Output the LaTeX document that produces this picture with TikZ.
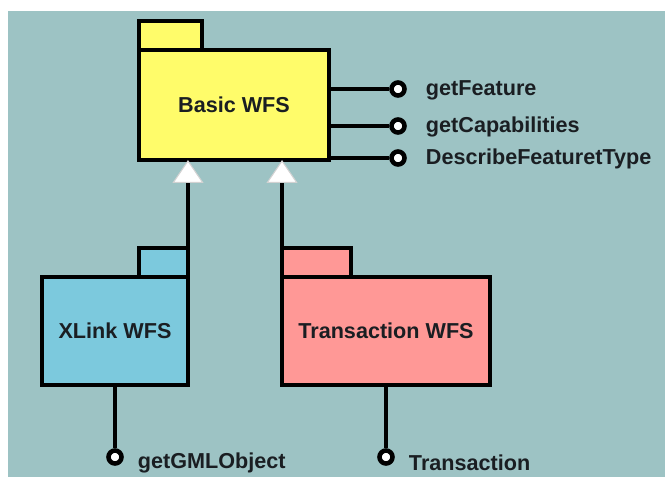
\documentclass[tikz,border=0pt]{standalone}
\usepackage{fontspec}
\setmainfont{Liberation Sans}
\usetikzlibrary{arrows.meta, positioning}
\definecolor{bgteal}{HTML}{9DC3C4}
\definecolor{wfsyellow}{HTML}{FFFC6A}
\definecolor{wfsblue}{HTML}{7CC9DD}
\definecolor{wfspink}{HTML}{FF9896}
\definecolor{inkdark}{HTML}{1A1E22}

\begin{document}
\begin{tikzpicture}[
    x=0.02cm, y=-0.02cm,
    every node/.style={font=\fontsize{12.3}{14}\selectfont\bfseries, text=inkdark},
    pkg/.style={rectangle, draw=black, line width=2.6pt, inner sep=0pt,
                outer sep=0pt},
    tab/.style={pkg, minimum height=0.58cm},
    port/.style={circle, draw=black, fill=white, line width=2.6pt,
                 minimum size=0.26cm, inner sep=0pt},
    oplabel/.style={anchor=west},
    wire/.style={black, line width=2.6pt},
    inherit/.style={wire, -{Triangle[width=0.62cm, length=0.46cm,
                    fill=white, color=gray!35, line width=0.6pt]}},
]
\useasboundingbox (0,0) rectangle (665,477);

% Background
\fill[white] (0,0) rectangle (665,477);
\fill[bgteal] (8,11) rectangle (665,477);

% Packages
\node[pkg, fill=wfsyellow, minimum width=3.8cm, minimum height=2.2cm]
  (basic) at (234,105) {Basic WFS};
\node[tab, fill=wfsyellow, minimum width=1.26cm,
      above right=0pt of basic.north west] (btab) {};

\node[pkg, fill=wfsblue, minimum width=2.92cm, minimum height=2.16cm]
  (xlink) at (115,331) {XLink WFS};
\node[tab, fill=wfsblue, minimum width=0.98cm,
      above left=0pt of xlink.north east] (xtab) {};

\node[pkg, fill=wfspink, minimum width=4.16cm, minimum height=2.16cm]
  (trans) at (386,331) {Transaction WFS};
\node[tab, fill=wfspink, minimum width=1.38cm,
      above right=0pt of trans.north west] (ttab) {};

% Interfaces of Basic WFS
\node[port] (p1) at (398,89) {};
\node[port] (p2) at (398,126) {};
\node[port] (p3) at (398,158) {};
\node[oplabel, right=0.26cm of p1, yshift=-0.6pt] {getFeature};
\node[oplabel, right=0.26cm of p2, yshift=-0.6pt] {getCapabilities};
\node[oplabel, right=0.26cm of p3, yshift=-0.6pt] {DescribeFeaturetType};

\draw[wire] (basic.east |- p1) -- (p1);
\draw[wire] (basic.east |- p2) -- (p2);
\draw[wire] (basic.east |- p3) -- (p3);

% Interfaces of the extensions
\node[port] (g1) at (115,457) {};
\node[port] (t1) at (386,457) {};
\node[oplabel, right=0.16cm of g1, yshift=-3.4pt] {getGMLObject};
\node[oplabel, right=0.16cm of t1, yshift=-3.4pt] {Transaction};

\draw[wire] (xlink.south) -- (g1);
\draw[wire] (trans.south) -- (t1);

% Generalisation
\draw[inherit] (xtab.north east) -- (xtab.north east |- basic.south);
\draw[inherit] (ttab.north west) -- (ttab.north west |- basic.south);

\end{tikzpicture}
\end{document}
